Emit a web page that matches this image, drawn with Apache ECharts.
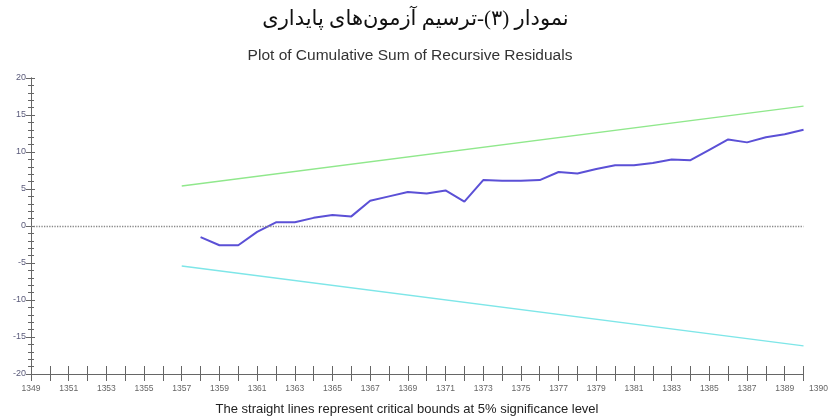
<!DOCTYPE html>
<html>
<head>
<meta charset="utf-8">
<script src="https://cdn.jsdelivr.net/npm/echarts@6/dist/echarts.min.js"></script>
<style>
  html, body { margin: 0; padding: 0; background: #fff; }
  #chart { width: 831px; height: 417px; }
</style>
</head>
<body>
<div id="chart"></div>
<script>
// CUSUM of recursive residuals
const cusumYears = [1358, 1359, 1360, 1361, 1362, 1363, 1364, 1365, 1366, 1367, 1368,
    1369, 1370, 1371, 1372, 1373, 1374, 1375, 1376, 1377, 1378, 1379, 1380, 1381,
    1382, 1383, 1384, 1385, 1386, 1387, 1388, 1389, 1390];
const cusumValues = [-1.5, -2.6, -2.6, -0.8, 0.5, 0.5, 1.1, 1.5, 1.3, 3.4, 4.0,
    4.6, 4.4, 4.8, 3.3, 6.2, 6.1, 6.1, 6.2, 7.3, 7.1, 7.7, 8.2, 8.2,
    8.5, 9.0, 8.9, 10.3, 11.7, 11.3, 12.0, 12.4, 13.0];

// 5% critical bounds (straight lines)
const boundYears = [1357, 1390];
const upperBound = [5.4, 16.2];
const lowerBound = [-5.4, -16.2];

const titleText = "نمودار (۳)-ترسیم آزمون‌های پایداری";
const subTitleText = "Plot of Cumulative Sum of Recursive Residuals";
const noteText = "The straight lines represent critical bounds at 5% significance level";

const pair = (xs, ys) => xs.map((x, i) => [x, ys[i]]);

const chart = echarts.init(document.getElementById("chart"));

const xBase = {
    type: "value",
    min: 1349,
    max: 1390,
    interval: 1,
    splitLine: { show: false },
    axisLine: { onZero: false, lineStyle: { color: "#666", width: 1 } },
};
const yBase = {
    type: "value",
    min: -20,
    max: 20,
    interval: 5,
    splitLine: { show: false },
    axisLine: { onZero: false, lineStyle: { color: "#666", width: 1 } },
};

const option = {
    backgroundColor: "#ffffff",
    animation: false,
    title: [
        {
            text: titleText,
            left: "center",
            top: 4,
            textStyle: {
                fontFamily: "Liberation Serif, DejaVu Serif, DejaVu Sans, serif",
                fontSize: 21,
                fontWeight: "normal",
                color: "#111",
            },
        },
        {
            text: subTitleText,
            left: 405,
            textAlign: "center",
            top: 43,
            textStyle: {
                fontFamily: "Liberation Sans, Arial, sans-serif",
                fontSize: 15.5,
                fontWeight: "normal",
                color: "#333",
            },
        },
        {
            text: noteText,
            left: 402,
            textAlign: "center",
            top: 398,
            textStyle: {
                fontFamily: "Liberation Sans, Arial, sans-serif",
                fontSize: 13,
                fontWeight: "normal",
                color: "#222",
            },
        },
    ],
    grid: { left: 31, right: 26, top: 78, bottom: 43 },
    xAxis: [
        Object.assign({}, xBase, {
            axisTick: { show: true, inside: false, length: 7, lineStyle: { color: "#666" } },
            axisLabel: {
                color: "#666",
                fontSize: 8.5,
                fontFamily: "Liberation Sans, Arial, sans-serif",
                margin: 10,
                formatter: (v) => {
                    if (v === 1390) return "{r|1390}";
                    return (v - 1349) % 2 === 0 ? String(v) : "";
                },
                rich: { r: { fontSize: 8.5, color: "#666", padding: [0, 0, 0, 30] } },
            },
        }),
        Object.assign({}, xBase, {
            position: "bottom",
            axisTick: { show: true, inside: true, length: 8, lineStyle: { color: "#666" } },
            axisLabel: { show: false },
        }),
    ],
    yAxis: [
        Object.assign({}, yBase, {
            axisTick: { show: true, inside: false, length: 5, lineStyle: { color: "#666" } },
            minorTick: { show: true, splitNumber: 5, length: 3, lineStyle: { color: "#666" } },
            axisLabel: {
                color: "#5a5a7a",
                fontSize: 9,
                fontFamily: "Liberation Sans, Arial, sans-serif",
                margin: 5,
            },
        }),
        Object.assign({}, yBase, {
            position: "left",
            axisTick: { show: true, inside: true, length: 4, lineStyle: { color: "#666" } },
            minorTick: { show: true, splitNumber: 5, length: 3, lineStyle: { color: "#666" } },
            axisLabel: { show: false },
        }),
    ],
    series: [
        {
            name: "Upper bound",
            type: "line",
            data: pair(boundYears, upperBound),
            symbol: "none",
            lineStyle: { color: "#90e88c", width: 1.5 },
        },
        {
            name: "Lower bound",
            type: "line",
            data: pair(boundYears, lowerBound),
            symbol: "none",
            lineStyle: { color: "#7ee6e8", width: 1.5 },
        },
        {
            name: "CUSUM",
            type: "line",
            data: pair(cusumYears, cusumValues),
            symbol: "none",
            lineStyle: { color: "#5b50d6", width: 2 },
            z: 3,
            markLine: {
                silent: true,
                symbol: "none",
                label: { show: false },
                lineStyle: { color: "#888", type: "dotted", width: 1.3 },
                data: [{ yAxis: 0 }],
            },
        },
    ],
};

chart.setOption(option);
</script>
</body>
</html>
